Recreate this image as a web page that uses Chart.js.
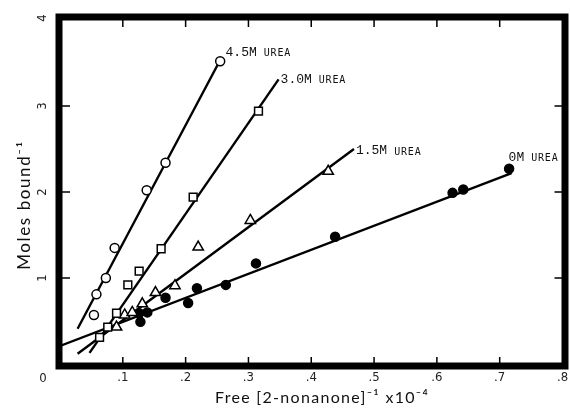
<!DOCTYPE html>
<html><head><meta charset="utf-8">
<script src="https://cdn.jsdelivr.net/npm/chart.js@4/dist/chart.umd.min.js"></script>
<style>html,body{margin:0;padding:0;background:#fff;}#wrap{width:570px;height:412px;}</style>
</head><body><div id="wrap"><canvas id="c" width="570" height="412"></canvas></div>
<script>
// ---- tick labels ----
const xTickValues = [0.1, 0.2, 0.3, 0.4, 0.5, 0.6, 0.7, 0.8];
const xTickLabels = ['.1', '.2', '.3', '.4', '.5', '.6', '.7', '.8'];
const yTickValues = [0, 1, 2, 3, 4];
const yTickLabels = ['0', '1', '2', '3', '4'];
const xTitle = 'Free [2-nonanone]\u207B\u00B9 x10\u207B\u2074';
const yTitle = 'Moles bound\u207B\u00B9';

// ---- series names ----
const seriesNames = ['4.5M', '3.0M', '1.5M', '0M'];
const seriesSuffix = 'UREA';

// ---- measured points ----
const urea45X = [0.054, 0.058, 0.073, 0.087, 0.138, 0.168, 0.255];
const urea45Y = [0.57, 0.81, 1.00, 1.35, 2.02, 2.34, 3.52];
const urea30X = [0.063, 0.076, 0.090, 0.108, 0.126, 0.161, 0.212, 0.316];
const urea30Y = [0.31, 0.43, 0.59, 0.92, 1.08, 1.34, 1.94, 2.94];
const urea15X = [0.090, 0.103, 0.115, 0.131, 0.152, 0.183, 0.220, 0.303, 0.427];
const urea15Y = [0.43, 0.57, 0.60, 0.70, 0.83, 0.91, 1.36, 1.67, 2.24];
const urea0X = [0.126, 0.128, 0.139, 0.168, 0.204, 0.218, 0.264, 0.312, 0.438, 0.625, 0.642, 0.715];
const urea0Y = [0.59, 0.49, 0.60, 0.77, 0.71, 0.88, 0.92, 1.17, 1.48, 1.99, 2.03, 2.27];

// ---- fitted lines (end points) ----
const fit45X = [0.028, 0.254];
const fit45Y = [0.41, 3.52];
const fit30X = [0.047, 0.348];
const fit30Y = [0.13, 3.31];
const fit15X = [0.028, 0.468];
const fit15Y = [0.12, 2.50];
const fit0X = [0.0, 0.719];
const fit0Y = [0.21, 2.22];

const pts = (xs, ys) => xs.map((x, i) => ({x: x, y: ys[i]}));

const lineDs = (xs, ys) => ({
  data: pts(xs, ys), showLine: true, borderColor: '#000', borderWidth: 2.4,
  pointRadius: 0, fill: false, order: 2
});
const pointDs = (xs, ys, style, radius, bg) => ({
  data: pts(xs, ys), showLine: false, pointStyle: style, pointRadius: radius,
  pointBorderColor: '#000', pointBackgroundColor: bg, pointBorderWidth: 1.5, order: 1
});

const labelOffsets = [[6, -9], [2, 0], [2, 2], [-3, -16]];

const decor = {
  id: 'decor',
  afterDatasetsDraw(chart) {
    const ctx = chart.ctx, a = chart.chartArea;
    const xs = chart.scales.x, ys = chart.scales.y;
    ctx.save();
    // frame
    ctx.strokeStyle = '#000';
    ctx.lineWidth = 7;
    const fl = a.left - 1, ft = a.top - 3, fr = a.right + 2.5, fb = a.bottom + 2;
    ctx.strokeRect(fl, ft, fr - fl, fb - ft);
    // inward ticks
    ctx.lineWidth = 1.5;
    ctx.beginPath();
    xTickValues.forEach(v => {
      if (v >= 0.8) return;
      const px = xs.getPixelForValue(v);
      ctx.moveTo(px, a.bottom); ctx.lineTo(px, a.bottom - 7);
      ctx.moveTo(px, a.top); ctx.lineTo(px, a.top + 7);
    });
    yTickValues.forEach(v => {
      if (v <= 0 || v >= 4) return;
      const py = ys.getPixelForValue(v);
      ctx.moveTo(a.left + 2, py); ctx.lineTo(a.left + 10, py);
      ctx.moveTo(a.right, py); ctx.lineTo(a.right - 8, py);
    });
    ctx.stroke();
    // y tick labels (rotated)
    ctx.fillStyle = '#222';
    ctx.font = '13px "Liberation Sans Narrow", "DejaVu Sans Condensed", sans-serif';
    ctx.textAlign = 'center';
    ctx.textBaseline = 'middle';
    yTickValues.forEach((v, i) => {
      let py = ys.getPixelForValue(v);
      if (v === 0) py += 15;
      if (v === 4) py -= 2;
      ctx.save();
      ctx.translate(a.left - 17, py);
      ctx.rotate(v === 0 ? 0 : -Math.PI / 2);
      ctx.fillText(yTickLabels[i], 0, 0);
      ctx.restore();
    });
    // axis titles
    ctx.font = '16px Lato, "Open Sans", sans-serif';
    ctx.fillStyle = '#111';
    ctx.textAlign = 'left';
    ctx.letterSpacing = '1.3px';
    ctx.fillText(xTitle, 215, 398);
    ctx.save();
    ctx.font = '17px Lato, "Open Sans", sans-serif';
    ctx.letterSpacing = '1.6px';
    ctx.translate(25, 205);
    ctx.rotate(-Math.PI / 2);
    ctx.textAlign = 'center';
    ctx.fillText(yTitle, 0, 0);
    ctx.restore();
    ctx.letterSpacing = '0px';
    // series labels at the end of each fitted line
    const ends = [[fit45X, fit45Y], [fit30X, fit30Y], [fit15X, fit15Y], [fit0X, fit0Y]];
    ends.forEach((e, i) => {
      const n = e[0].length - 1;
      const px = xs.getPixelForValue(e[0][n]) + labelOffsets[i][0];
      const py = ys.getPixelForValue(e[1][n]) + labelOffsets[i][1];
      ctx.textAlign = 'left';
      ctx.font = '13px "Liberation Mono", "DejaVu Sans Mono", monospace';
      ctx.fillStyle = '#111';
      ctx.fillText(seriesNames[i], px, py);
      const w = ctx.measureText(seriesNames[i]).width;
      ctx.font = '10px "DejaVu Sans Mono", monospace';
      ctx.letterSpacing = '0.8px';
      ctx.fillText(seriesSuffix, px + w + 7, py + 1);
      ctx.letterSpacing = '0px';
    });
    ctx.restore();
  }
};

new Chart(document.getElementById('c'), {
  type: 'scatter',
  data: {
    datasets: [
      lineDs(fit45X, fit45Y), lineDs(fit30X, fit30Y), lineDs(fit15X, fit15Y), lineDs(fit0X, fit0Y),
      pointDs(urea45X, urea45Y, 'circle', 4.5, '#fff'),
      pointDs(urea30X, urea30Y, 'rect', 5.5, '#fff'),
      pointDs(urea15X, urea15Y, 'triangle', 6, '#fff'),
      pointDs(urea0X, urea0Y, 'circle', 4.5, '#000')
    ]
  },
  options: {
    responsive: false,
    animation: false,
    devicePixelRatio: 1,
    layout: {padding: {top: 20, right: 0, left: 0, bottom: 0}},
    plugins: {legend: {display: false}, tooltip: {enabled: false}},
    scales: {
      x: {
        type: 'linear', min: 0, max: 0.8,
        afterBuildTicks: s => { s.ticks = xTickValues.map(v => ({value: v})); },
        ticks: {
          callback: v => { const i = xTickValues.findIndex(t => Math.abs(t - v) < 1e-9); return i >= 0 ? xTickLabels[i] : ''; },
          color: '#222', padding: 6, maxRotation: 0, autoSkip: false,
          font: {family: '"Liberation Sans Narrow", "DejaVu Sans Condensed", sans-serif', size: 13}
        },
        grid: {display: false, drawTicks: false},
        border: {display: false},
        afterFit: s => { s.height = 48; s.paddingRight = 0; s.paddingLeft = 0; }
      },
      y: {
        type: 'linear', min: 0, max: 4,
        ticks: {display: false},
        grid: {display: false, drawTicks: false},
        border: {display: false},
        afterFit: s => { s.width = 60; s.paddingTop = 0; s.paddingBottom = 0; }
      }
    }
  },
  plugins: [decor]
});
</script></body></html>
